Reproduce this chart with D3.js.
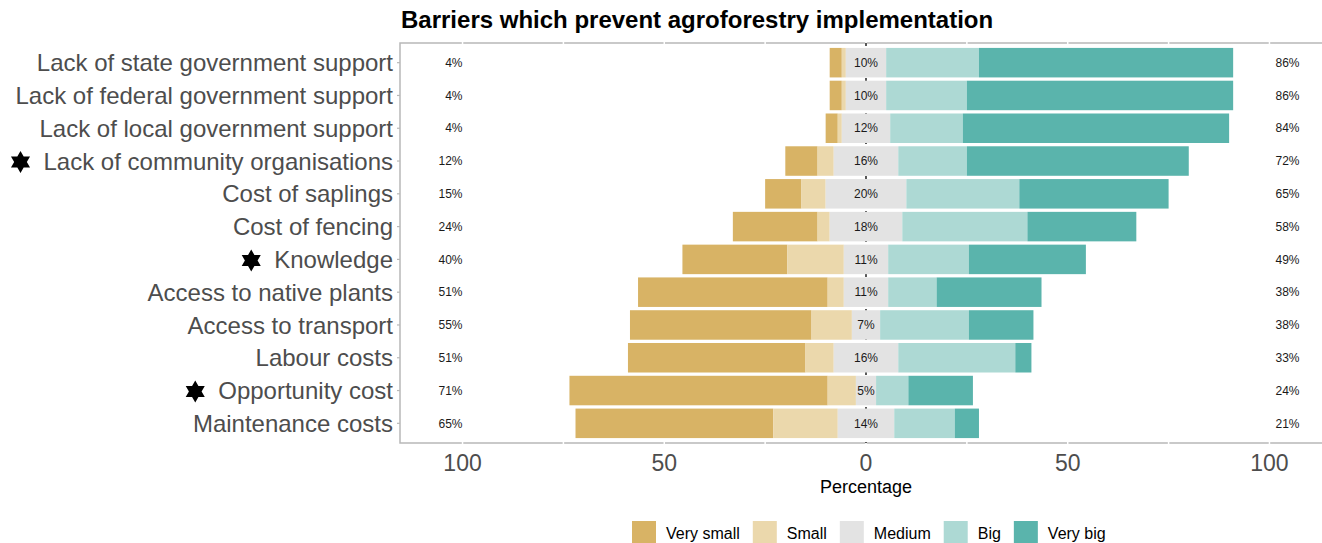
<!DOCTYPE html>
<html>
<head>
<meta charset="utf-8">
<script src="https://cdn.jsdelivr.net/npm/d3@7"></script>
<style>
  body { margin: 0; background: #fff; }
  svg { display: block; font-family: "Liberation Sans", Arial, sans-serif; }
</style>
</head>
<body>
<script>
// categories, top to bottom
const categories = [
  "Lack of state government support",
  "Lack of federal government support",
  "Lack of local government support",
  "Lack of community organisations",
  "Cost of saplings",
  "Cost of fencing",
  "Knowledge",
  "Access to native plants",
  "Access to transport",
  "Labour costs",
  "Opportunity cost",
  "Maintenance costs"
];
const starred = ["Lack of community organisations", "Knowledge", "Opportunity cost"];

// percentages per level
const verySmall = [3, 3, 3, 8, 9, 21, 26, 47, 45, 44, 64, 49];
const small     = [1, 1, 1, 4, 6, 3, 14, 4, 10, 7, 7, 16];
const medium    = [10, 10, 12, 16, 20, 18, 11, 11, 7, 16, 5, 14];
const big       = [23, 20, 18, 17, 28, 31, 20, 12, 22, 29, 8, 15];
const veryBig   = [63, 66, 66, 55, 37, 27, 29, 26, 16, 4, 16, 6];

const levels = ["Very small", "Small", "Medium", "Big", "Very big"];
const levelColors = ["#D8B365", "#EBD8AC", "#E3E3E3", "#ADD9D4", "#5AB4AC"];
const xTicks = [-100, -50, 0, 50, 100];
const gridTicks = [-100, -75, -50, -25, 0, 25, 50, 75, 100];

const w = 1322, h = 543;
const panel = {left: 400, top: 43, bottom: 443, right: 1332};
// ggplot style discrete expansion: 0.6 of a step on each side
const step = (panel.bottom - panel.top) / (categories.length + 0.2);

const svg = d3.select("body").append("svg")
  .attr("width", w)
  .attr("height", h);

const x = d3.scaleLinear()
  .domain([-115.5, 115.5])
  .range([panel.left, panel.right]);

const y = d3.scaleBand()
  .domain(categories)
  .range([panel.top + 0.1 * step, panel.bottom - 0.1 * step])
  .paddingInner(0.1)
  .paddingOuter(0.05);

// build stacked segments
const rows = categories.map(function(c, i) {
  const vals = [verySmall[i], small[i], medium[i], big[i], veryBig[i]];
  let start = -(vals[0] + vals[1] + vals[2] / 2);
  const segs = vals.map(function(v, k) {
    const s = {cat: c, level: k, x0: start, x1: start + v};
    start += v;
    return s;
  });
  return {cat: c, segs: segs, low: vals[0] + vals[1], mid: vals[2], high: vals[3] + vals[4]};
});

const cy = d => y(d) + y.bandwidth() / 2;

// panel border
svg.append("path")
  .attr("d", "M" + panel.right + "," + panel.top + "H" + panel.left + "V" + panel.bottom + "H" + panel.right)
  .attr("stroke", "#b8b8b8").attr("stroke-width", 1.5).attr("fill", "none");

// y ticks on the left border
svg.append("g").selectAll("line")
  .data(categories)
  .enter().append("line")
  .attr("x1", panel.left - 3).attr("x2", panel.left)
  .attr("y1", cy).attr("y2", cy)
  .attr("stroke", "#b8b8b8").attr("stroke-width", 1.2);

// white grid lines (notch the border)
svg.append("g").selectAll("line")
  .data(gridTicks)
  .enter().append("line")
  .attr("x1", d => x(d)).attr("x2", d => x(d))
  .attr("y1", panel.top - 1).attr("y2", panel.bottom + 1)
  .attr("stroke", "#fff").attr("stroke-width", 1.5);

// dashed zero line
svg.append("line")
  .attr("x1", x(0)).attr("x2", x(0))
  .attr("y1", panel.top).attr("y2", panel.bottom)
  .attr("stroke", "#000").attr("stroke-width", 1.3)
  .attr("stroke-dasharray", "3,4");

// bars
svg.append("g").selectAll("g")
  .data(rows)
  .enter().append("g")
  .selectAll("rect")
  .data(d => d.segs)
  .enter().append("rect")
  .attr("x", d => x(d.x0))
  .attr("width", d => Math.max(0, x(d.x1) - x(d.x0)))
  .attr("y", d => y(d.cat))
  .attr("height", y.bandwidth())
  .attr("fill", d => levelColors[d.level]);

// percentage labels
const labels = svg.append("g").attr("font-size", 12).attr("fill", "#1a1a1a");
labels.selectAll(".low")
  .data(rows).enter().append("text")
  .attr("x", x(-100)).attr("y", d => cy(d.cat))
  .attr("dy", "0.35em").attr("text-anchor", "end")
  .text(d => d.low + "%");
labels.selectAll(".mid")
  .data(rows).enter().append("text")
  .attr("x", x(0)).attr("y", d => cy(d.cat))
  .attr("dy", "0.35em").attr("text-anchor", "middle")
  .text(d => d.mid + "%");
labels.selectAll(".high")
  .data(rows).enter().append("text")
  .attr("x", x(101.5)).attr("y", d => cy(d.cat))
  .attr("dy", "0.35em").attr("text-anchor", "start")
  .text(d => d.high + "%");

// category labels with stars
function hexagram(r) {
  const pts = [];
  for (let k = 0; k < 12; k++) {
    const a = (-90 + k * 30) * Math.PI / 180;
    const rr = k % 2 === 0 ? r : r / Math.sqrt(3);
    pts.push([rr * Math.cos(a), rr * Math.sin(a)]);
  }
  return "M" + pts.map(p => p.join(",")).join("L") + "Z";
}

const catLabels = svg.append("g").selectAll("g")
  .data(categories)
  .enter().append("g")
  .attr("transform", d => "translate(" + (panel.left - 7) + "," + cy(d) + ")");
catLabels.append("text")
  .attr("text-anchor", "end")
  .attr("dy", "0.36em")
  .attr("font-size", 24)
  .attr("fill", "#4d4d4d")
  .text(d => d);
catLabels.filter(d => starred.includes(d))
  .append("path")
  .attr("d", hexagram(11))
  .attr("fill", "#000")
  .attr("transform", function(d) {
    const len = this.parentNode.querySelector("text").getComputedTextLength();
    return "translate(" + (-len - 23) + ",1)";
  });

// x axis tick labels
svg.append("g").selectAll("text")
  .data(xTicks)
  .enter().append("text")
  .attr("x", d => x(d))
  .attr("y", 471)
  .attr("text-anchor", "middle")
  .attr("font-size", 23)
  .attr("fill", "#4d4d4d")
  .text(d => Math.abs(d));

svg.append("text")
  .attr("x", x(0)).attr("y", 493)
  .attr("text-anchor", "middle")
  .attr("font-size", 18)
  .attr("fill", "#000")
  .text("Percentage");

// title
svg.append("text")
  .attr("x", panel.left + 1).attr("y", 28)
  .attr("font-size", 24)
  .attr("font-weight", "bold")
  .attr("fill", "#000")
  .text("Barriers which prevent agroforestry implementation");

// legend
const legend = svg.append("g").attr("transform", "translate(632,521)");
let lx = 0;
levels.forEach(function(l, i) {
  legend.append("rect")
    .attr("x", lx).attr("y", 0)
    .attr("width", 24).attr("height", 24)
    .attr("fill", levelColors[i]);
  const t = legend.append("text")
    .attr("x", lx + 34).attr("y", 18)
    .attr("font-size", 16)
    .attr("fill", "#000")
    .text(l);
  lx += 34 + t.node().getComputedTextLength() + 13;
});
</script>
</body>
</html>
